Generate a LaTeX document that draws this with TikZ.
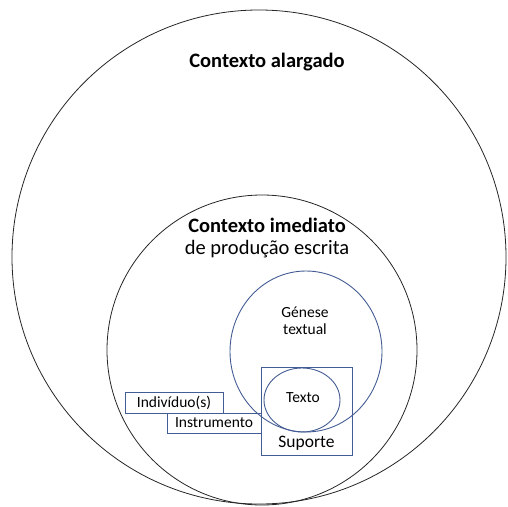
\documentclass[tikz,border=0pt]{standalone}
\usepackage{fontspec}
\setmainfont{Carlito}
\usetikzlibrary{positioning}
\definecolor{boxblue}{RGB}{68,92,148}
\tikzset{
  ring/.style={draw=black!85, line width=0.8pt},
  bluering/.style={draw=boxblue, line width=0.9pt},
  tag/.style={draw=boxblue, line width=0.9pt, inner sep=0pt},
  big/.style={font=\fontsize{20.5}{23}\selectfont},
  bigbold/.style={font=\bfseries\fontsize{20.5}{23}\selectfont},
  small/.style={font=\fontsize{15.5}{18}\selectfont},
}

\begin{document}
\begin{tikzpicture}[x=1pt, y=-1pt]
  \useasboundingbox (0,0) rectangle (508,506);
  % wide context
  \draw[ring] (259,257) circle (247pt);
  \node[bigbold] (alargado) at (267,62) {Contexto alargado};
  % immediate context
  \draw[ring] (262,350) circle (155pt);
  \node[big, align=center] (imediato) at (267,238)
    {\textbf{Contexto imediato}\\[-1pt]de produção escrita};
  % text genesis
  \draw[bluering] (306,351.5) ellipse [x radius=76pt, y radius=80.5pt];
  \node[small, align=center] (genese) at (305,321) {Génese\\[-1pt]textual};
  % support box with text inside
  \node[tag, minimum width=91pt, minimum height=88pt] (suporte) at (306.5,411) {};
  \node[font=\fontsize{17.5}{20}\selectfont, above=2pt of suporte.south] (suportelbl) {Suporte};
  \draw[bluering] (302,400) ellipse [x radius=38pt, y radius=32pt];
  \node[small] (texto) at (303,398) {Texto};
  % agents and tools
  \node[tag, small, minimum width=98pt, minimum height=21pt] (individuo) at (174,402.5) {Indivíduo(s)};
  \node[tag, small, minimum width=94pt, minimum height=20pt] (instrumento) at (214,423) {Instrumento};
\end{tikzpicture}
\end{document}
